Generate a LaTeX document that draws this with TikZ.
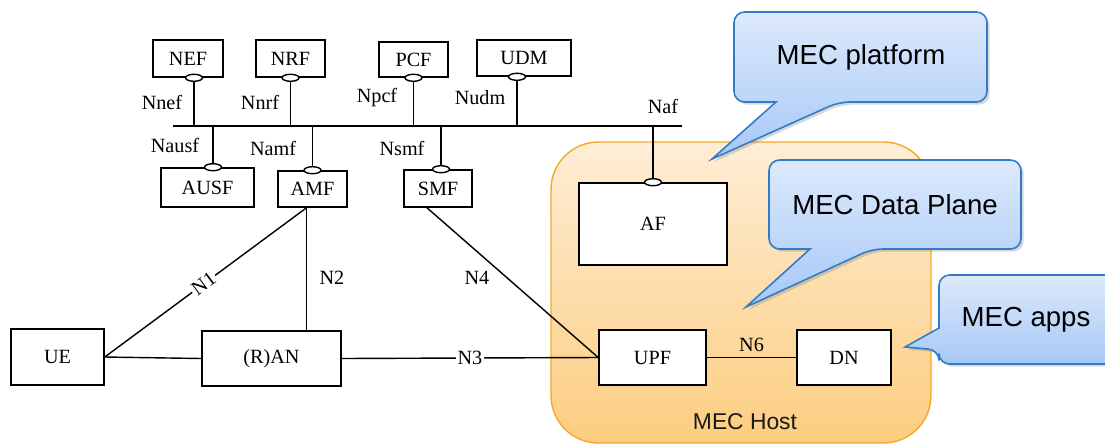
\documentclass[tikz,border=0pt]{standalone}
\usepackage{fontspec}
\setmainfont{Liberation Serif}
\newfontfamily\mecfont{Liberation Sans}
\usetikzlibrary{shapes.geometric,shadows}

\definecolor{hostTop}{HTML}{FEEDD6}
\definecolor{hostBot}{HTML}{FCCD80}
\definecolor{hostLine}{HTML}{F7A823}
\definecolor{bubTop}{HTML}{DDE9FC}
\definecolor{bubBot}{HTML}{A6C8F6}
\definecolor{bubLine}{HTML}{2F7CCB}

\tikzset{
  nf/.style={draw, line width=0.9pt, fill=white, inner sep=0pt,
    font=\fontsize{11.5}{13}\selectfont},
  lbl/.style={inner sep=1pt, font=\fontsize{11.5}{13}\selectfont},
  link/.style={line width=0.8pt},
  oval/.style={ellipse, draw, fill=white, line width=0.8pt,
    minimum width=0.34cm, minimum height=0.14cm, inner sep=0pt},
  bubble/.style={draw=bubLine, line width=0.9pt, top color=bubTop, bottom color=bubBot,
    drop shadow={shadow xshift=1.5pt, shadow yshift=-1.5pt, opacity=0.25, fill=black!60}},
  bubtext/.style={font=\mecfont\fontsize{15.7}{18}\selectfont}
}

\begin{document}
\begin{tikzpicture}[x=0.02cm, y=-0.02cm]
  \useasboundingbox (0,0) rectangle (1105,444);

  % MEC host area
  \shade[top color=hostTop, bottom color=hostBot, rounded corners=0.95cm] (551,142) rectangle (931,443);
  \draw[hostLine, line width=0.8pt, rounded corners=0.95cm] (551,142) rectangle (931,443);
  \node[font=\mecfont\fontsize{13}{15}\selectfont, text=black!90] (host) at (745,422) {MEC Host};

  % call-outs
  \draw[bubble] (734,57) [rounded corners=6pt] -- (734,12) -- (987,12) -- (987,102) -- (839,102)
    [sharp corners] -- (712,159) -- (776,102) [rounded corners=6pt] -- (734,102) -- cycle;
  \node[bubtext] (mecplat) at (861,57) {MEC platform};
  \draw[bubble] (769,205) [rounded corners=6pt] -- (769,160) -- (1021,160) -- (1021,249) -- (872,249)
    [sharp corners] -- (746,307) -- (810,249) [rounded corners=6pt] -- (769,249) -- cycle;
  \node[bubtext] (mecdata) at (895,205) {MEC Data Plane};
  \draw[bubble] (1020,275) [rounded corners=6pt] -- (1120,275) -- (1120,364) -- (939,364) -- (939,350)
    [sharp corners] -- (905,347) -- (939,328) [rounded corners=6pt] -- (939,275) -- cycle;
  \node[bubtext] (mecapps) at (1026,320) {MEC apps};

  % network functions
  \node[nf, minimum width=1.40cm, minimum height=0.74cm] (nef) at (188,58.5) {NEF};
  \node[nf, minimum width=1.38cm, minimum height=0.74cm] (nrf) at (290.5,58.5) {NRF};
  \node[nf, minimum width=1.38cm, minimum height=0.70cm] (pcf) at (413.5,59.5) {PCF};
  \node[nf, minimum width=1.88cm, minimum height=0.72cm] (udm) at (524,58) {UDM};
  \node[nf, minimum width=1.86cm, minimum height=0.78cm] (ausf) at (207.5,187.5) {AUSF};
  \node[nf, minimum width=1.38cm, minimum height=0.72cm] (amf) at (312.5,189) {AMF};
  \node[nf, minimum width=1.36cm, minimum height=0.74cm] (smf) at (438,188.5) {SMF};
  \node[nf, minimum width=2.96cm, minimum height=1.64cm] (af) at (653,224) {AF};
  \node[nf, minimum width=2.14cm, minimum height=1.10cm] (upf) at (652.5,357.5) {UPF};
  \node[nf, minimum width=1.88cm, minimum height=1.10cm] (dn) at (844,357.5) {DN};
  \node[nf, minimum width=1.86cm, minimum height=1.12cm] (ue) at (57.5,357) {UE};
  \node[nf, minimum width=2.78cm, minimum height=1.10cm] (ran) at (271.5,358.5) {(R)AN};

  % service bus
  \coordinate (busl) at (173,126);
  \coordinate (busr) at (682,126);
  \draw[link] (busl) -- (busr);

  \node[oval] (onef) at ([xshift=0.12cm]nef.south) {};
  \node[oval] (onrf) at (nrf.south) {};
  \node[oval] (opcf) at (pcf.south) {};
  \node[oval] (oudm) at ([xshift=-0.14cm]udm.south) {};
  \node[oval] (oausf) at ([xshift=0.11cm]ausf.north) {};
  \node[oval] (oamf) at (amf.north) {};
  \node[oval] (osmf) at ([xshift=0.06cm]smf.north) {};
  \node[oval] (oaf) at (af.north) {};

  \draw[link] (onef) -- (onef |- busl);
  \draw[link] (onrf) -- (onrf |- busl);
  \draw[link] (opcf) -- (opcf |- busl);
  \draw[link] (oudm) -- (oudm |- busl);
  \draw[link] (oausf) -- (oausf |- busl);
  \draw[link] (oamf) -- (oamf |- busl);
  \draw[link] (osmf) -- (osmf |- busl);
  \draw[link] (oaf) -- (oaf |- busl);

  \node[lbl] (lnef) at (162,102) {Nnef};
  \node[lbl] (lnrf) at (260,102) {Nnrf};
  \node[lbl] (lpcf) at (377,98) {Npcf};
  \node[lbl] (ludm) at (480,98) {Nudm};
  \node[lbl] (lausf) at (175,145) {Nausf};
  \node[lbl] (lamf) at (273,148) {Namf};
  \node[lbl] (lsmf) at (402,148) {Nsmf};
  \node[lbl] (laf) at (663,106) {Naf};

  % reference points
  \coordinate (amfb) at ([xshift=-0.12cm]amf.south);
  \coordinate (smfb) at ([xshift=-0.22cm]smf.south);
  \draw[link] (ue.east) -- node[lbl, fill=white, sloped, pos=0.49] (ln1) {N1} (amfb);
  \draw[link] (amfb) -- (amfb |- ran.north);
  \node[lbl] (ln2) at (332,278) {N2};
  \draw[link] (smfb) -- (upf.west);
  \node[lbl] (ln4) at (477,278) {N4};
  \draw[link] (ue.east) -- (ran.west);
  \draw[link] (ran.east) -- node[lbl, fill=white] (ln3) {N3} (upf.west);
  \draw[link] (upf.east) -- node[lbl, above=2pt] (ln6) {N6} (dn.west);
\end{tikzpicture}
\end{document}
